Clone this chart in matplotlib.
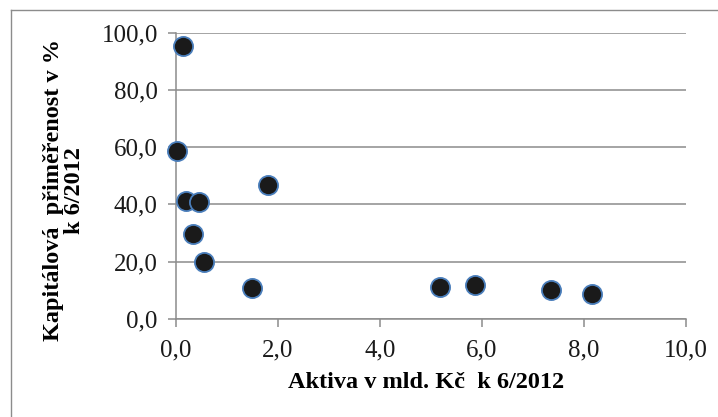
import matplotlib
matplotlib.use("Agg")
import matplotlib.pyplot as plt
from matplotlib.lines import Line2D
from matplotlib.ticker import FuncFormatter

# Data
aktiva = [0.14, 0.02, 0.20, 0.45, 0.33, 0.55, 1.49, 1.81, 5.19, 5.87, 7.35, 8.17]
kapital = [95.3, 58.8, 41.2, 40.8, 29.7, 19.9, 10.8, 46.8, 11.2, 11.9, 10.1, 8.7]
xticks = [0, 2, 4, 6, 8, 10]
yticks = [0, 20, 40, 60, 80, 100]

plt.rcParams['font.family'] = ['Liberation Serif', 'DejaVu Serif']

fig = plt.figure(figsize=(7.18, 4.17), dpi=100)
ax = fig.add_axes([0.245, 0.235, 0.71, 0.687])

ax.scatter(aktiva, kapital, s=190, c='#1a1a1a', edgecolors='#4a7ebb',
           linewidths=1.3, zorder=3, clip_on=False)

ax.set_xlim(0, 10)
ax.set_ylim(0, 100)
ax.set_xticks(xticks)
ax.set_yticks(yticks)
fmt = FuncFormatter(lambda v, p: f"{v:.1f}".replace('.', ','))
ax.xaxis.set_major_formatter(fmt)
ax.yaxis.set_major_formatter(fmt)

ax.grid(axis='y', color='#8c8c8c', linewidth=1.1)
ax.set_axisbelow(True)
for s in ['top', 'right']:
    ax.spines[s].set_visible(False)
for s in ['left', 'bottom']:
    ax.spines[s].set_color('#8c8c8c')
    ax.spines[s].set_linewidth(1.1)
ax.tick_params(colors='#8c8c8c', length=6, width=1.1, labelsize=18,
               labelcolor='#1a1a1a')
ax.tick_params(axis='x', pad=9)
ax.tick_params(axis='y', pad=7)

ax.set_xlabel('Aktiva v mld. Kč  k 6/2012', fontsize=17.5, fontweight='bold')
ax.xaxis.set_label_coords(0.49, -0.185)
ax.set_ylabel('Kapitálová  přiměřenost v %\nk 6/2012', fontsize=17.5,
              fontweight='bold', linespacing=1.0)
ax.yaxis.set_label_coords(-0.178, 0.45)

# light frame around the chart area (right/bottom edges cut off in original)
fig.add_artist(Line2D([11/718, 11/718], [0, 1 - 10/417], transform=fig.transFigure,
                      color='#8c8c8c', linewidth=1.0))
fig.add_artist(Line2D([11/718, 1], [1 - 10/417, 1 - 10/417], transform=fig.transFigure,
                      color='#8c8c8c', linewidth=1.0))

plt.savefig('out.png', dpi=100)
